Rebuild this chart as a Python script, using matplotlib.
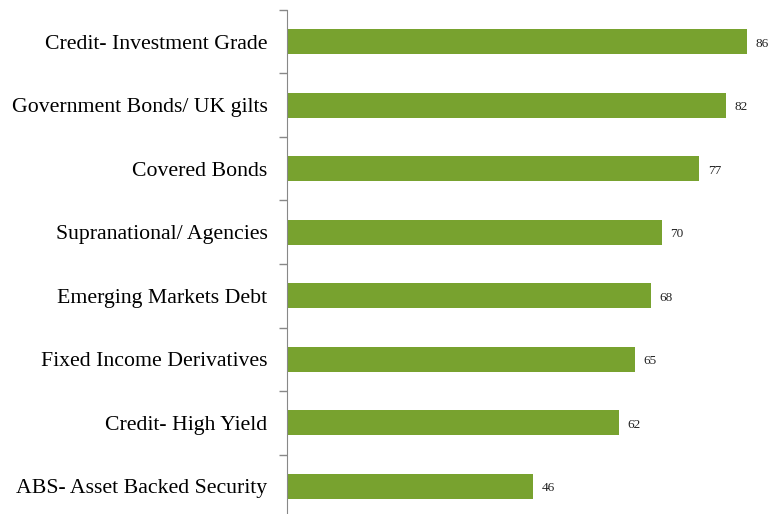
import numpy as np
import matplotlib.pyplot as plt

categories = ['Credit- Investment Grade', 'Government Bonds/ UK gilts', 'Covered Bonds',
              'Supranational/ Agencies', 'Emerging Markets Debt', 'Fixed Income Derivatives',
              'Credit- High Yield', 'ABS- Asset Backed Security']
values = [86, 82, 77, 70, 68, 65, 62, 46]

bar_color = '#78A22F'

fig = plt.figure(figsize=(7.74, 5.14), dpi=100)
ax = fig.add_axes([287 / 774, -4 / 514, 1 - 287 / 774, 508 / 514])

y = np.arange(len(categories))
ax.barh(y, values, height=0.4, color=bar_color)
for yi, v in zip(y, values):
    ax.text(v + 1.6, yi + 0.03, str(v), va='center', ha='left', fontsize=9.5,
            family='Liberation Serif', color='#222222')

ax.set_xlim(0, 91)
ax.set_ylim(len(categories) - 0.5, -0.5)
ax.set_yticks(y)
ax.set_yticklabels(categories, family='Liberation Serif', fontsize=15.7)
ax.tick_params(axis='y', which='major', length=0, pad=14)
ax.set_yticks(np.arange(len(categories) + 1) - 0.5, minor=True)
ax.tick_params(axis='y', which='minor', length=6, color='#888888', width=1)
ax.set_xticks([])
for s in ['top', 'right', 'bottom']:
    ax.spines[s].set_visible(False)
ax.spines['left'].set_color('#888888')

fig.savefig('out.png', dpi=100)
